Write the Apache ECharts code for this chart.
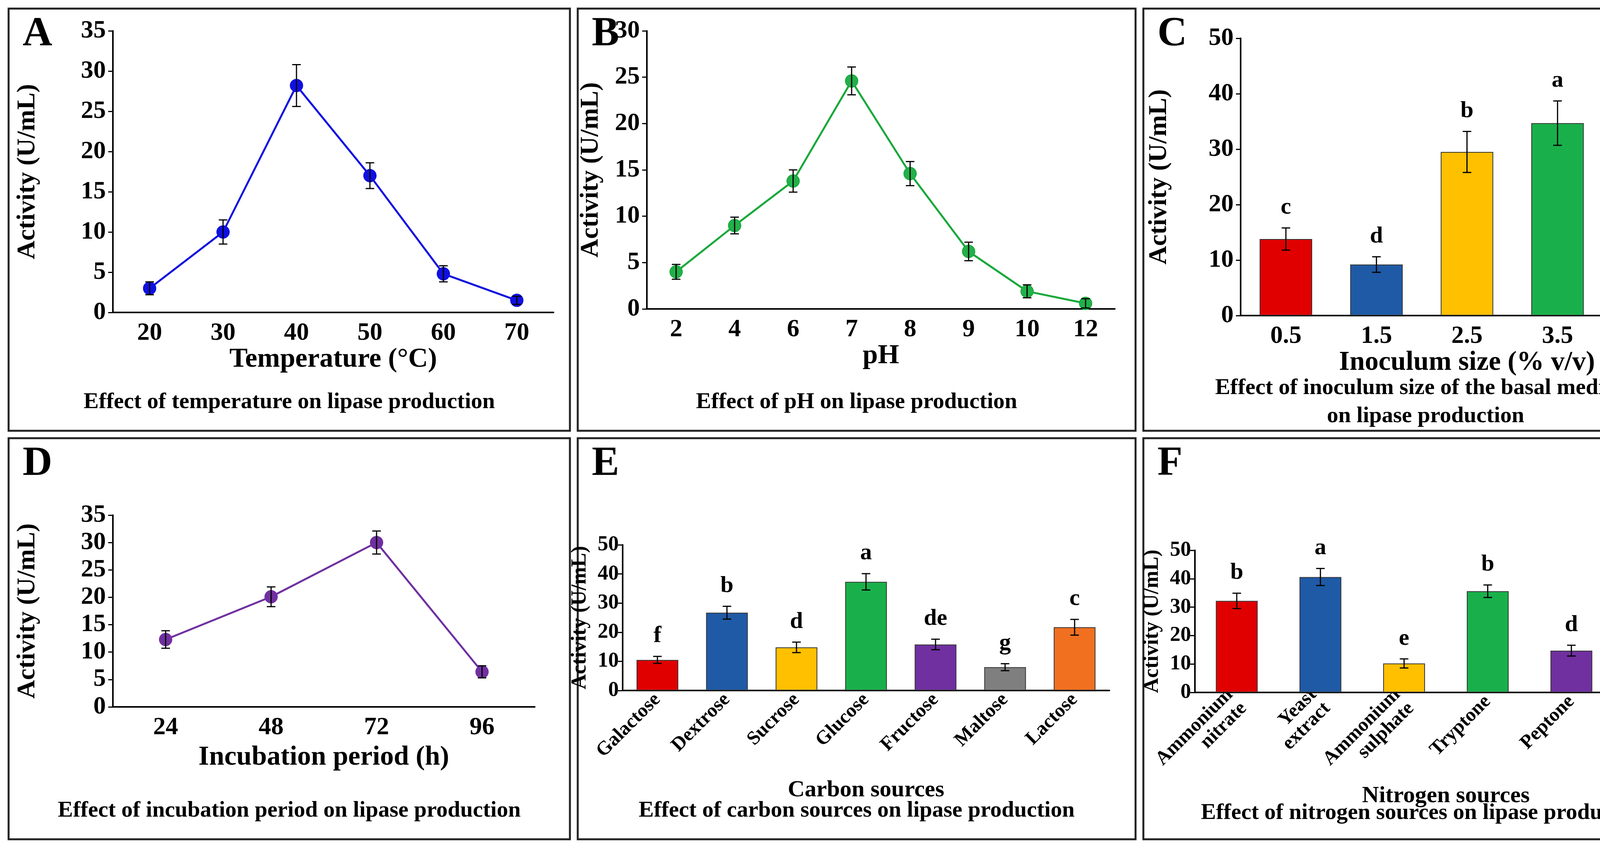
<!DOCTYPE html>
<html>
<head>
<meta charset="utf-8">
<script src="https://cdn.jsdelivr.net/npm/echarts@6/dist/echarts.min.js"></script>
<style>html,body{margin:0;padding:0;background:#fff}#main{width:4400px;height:2179px}</style>
</head>
<body>
<div id="main"></div>
<script>
var F = '"Liberation Serif", "Times New Roman", serif';

// A: temperature
var tempCats = ['20','30','40','50','60','70'];
var tempVals = [3, 10, 28.2, 17, 4.8, 1.5];
var tempErr = [0.8, 1.5, 2.6, 1.6, 1.0, 0.5];
// B: pH
var phCats = ['2','4','6','7','8','9','10','12'];
var phVals = [4, 9, 13.8, 24.6, 14.6, 6.2, 1.9, 0.6];
var phErr = [0.8, 0.9, 1.2, 1.5, 1.3, 1.0, 0.7, 0.5];
// C: inoculum
var inoCats = ['0.5','1.5','2.5','3.5','4.5'];
var inoVals = [13.8, 9.2, 29.5, 34.7, 11.3];
var inoErr = [2.0, 1.4, 3.7, 4.0, 1.8];
var inoLetters = ['c','d','b','a','d'];
// D: incubation period
var incCats = ['24','48','72','96'];
var incVals = [12.3, 20.1, 30, 6.4];
var incErr = [1.6, 1.8, 2.1, 1.1];
// E: carbon sources
var carbCats = ['Galactose','Dextrose','Sucrose','Glucose','Fructose','Maltose','Lactose'];
var carbVals = [10.5, 26.7, 14.8, 37.3, 15.8, 8.0, 21.7];
var carbErr = [1.2, 2.2, 1.8, 2.8, 1.8, 1.2, 2.7];
var carbLetters = ['f','b','d','a','de','g','c'];
// F: nitrogen sources
var nitCats = ['Ammonium\nnitrate','Yeast\nextract','Ammonium\nsulphate','Tryptone','Peptone','Beef\nextract'];
var nitVals = [32.2, 40.6, 10.2, 35.6, 14.7, 6.2];
var nitErr = [2.7, 3.0, 1.6, 2.2, 1.9, 1.1];
var nitLetters = ['b','a','e','b','d','f'];

var RED='#E00000', BLUE='#1F5AA6', YEL='#FFC000', GRN='#19B04B', PUR='#7030A0', GRY='#7F7F7F', ORG='#F07020';

var panels = [
  {box:[22,22,1437,1081], tag:'A', grid:{left:289,top:79,width:1128,height:721}, cats:tempCats, vals:tempVals, err:tempErr,
   type:'line', color:'#1010E0', max:35, step:5, xname:'Temperature (°C)', xgap:80, ygap:185, sub:'Effect of temperature on lipase production', subY:1030},
  {box:[1479,22,1428,1081], tag:'B', grid:{left:1656,top:79,width:1198,height:712}, cats:phCats, vals:phVals, err:phErr,
   type:'line', color:'#18A83A', mcolor:'#22B04A', max:30, step:5, xname:'pH', xgap:75, ygap:110, sub:'Effect of pH on lipase production', subY:1030},
  {box:[2927,22,1445,1081], tag:'C', grid:{left:3176,top:98,width:1159,height:710}, cats:inoCats, vals:inoVals, err:inoErr,
   type:'bar', colors:[RED,BLUE,YEL,GRN,PUR], letters:inoLetters, bw:'58%', max:50, step:10, xname:'Inoculum size (% v/v)', xgap:62, ygap:175,
   sub:'Effect of inoculum size of the basal medium\non lipase production', subY:1030},
  {box:[22,1122,1437,1027], tag:'D', grid:{left:289,top:1319,width:1080,height:491}, cats:incCats, vals:incVals, err:incErr,
   type:'line', color:PUR, max:35, step:5, xname:'Incubation period (h)', xgap:95, ygap:185, sub:'Effect of incubation period on lipase production', subY:2076},
  {box:[1479,1122,1428,1027], tag:'E', grid:{left:1594,top:1395,width:1246,height:373}, cats:carbCats, vals:carbVals, err:carbErr,
   type:'bar', colors:[RED,BLUE,YEL,GRN,PUR,GRY,ORG], letters:carbLetters, bw:'60%', max:50, step:10, rot:45, xname:'Carbon sources', xgap:225, ygap:82,
   sub:'Effect of carbon sources on lipase production', subY:2076},
  {box:[2927,1122,1445,1027], tag:'F', grid:{left:3059,top:1409,width:1285,height:364}, cats:nitCats, vals:nitVals, err:nitErr,
   type:'bar', colors:[RED,BLUE,YEL,GRN,PUR,GRY], letters:nitLetters, bw:'50%', max:50, step:10, rot:45, xname:'Nitrogen sources', xgap:235, ygap:82,
   sub:'Effect of nitrogen sources on lipase production', subY:2082}
];

var grids=[], xAxes=[], yAxes=[], series=[], graphics=[];
panels.forEach(function(p, i){
  grids.push(p.grid);
  var axisLine = {lineStyle:{color:'#000', width:4}};
  xAxes.push({type:'category', gridIndex:i, data:p.cats, boundaryGap:true,
    axisLine:axisLine, axisTick:{alignWithLabel:true, length:12, lineStyle:{width:3,color:'#000'}},
    axisLabel:{color:'#000', fontFamily:F, fontWeight:'bold', fontSize:p.rot?50:64, rotate:p.rot||0, margin:p.rot?16:28, interval:0, lineHeight:50},
    name:p.xname, nameLocation:'middle', nameGap:p.xgap,
    nameTextStyle:{color:'#000', fontFamily:F, fontWeight:'bold', fontSize:p.rot?60:70}});
  yAxes.push({type:'value', gridIndex:i, min:0, max:p.max, interval:p.step,
    axisLine:Object.assign({show:true}, axisLine), axisTick:{show:true, length:12, lineStyle:{width:3,color:'#000'}},
    splitLine:{show:false},
    axisLabel:{color:'#000', fontFamily:F, fontWeight:'bold', fontSize:p.rot?54:64, margin:p.rot?10:18},
    name:'Activity (U/mL)', nameLocation:'middle', nameGap:p.ygap, nameRotate:90,
    nameTextStyle:{color:'#000', fontFamily:F, fontWeight:'bold', fontSize:p.rot?54:66}});
  if (p.type === 'line') {
    series.push({type:'line', xAxisIndex:i, yAxisIndex:i, data:p.vals, symbol:'circle', symbolSize:32,
      lineStyle:{color:p.color, width:5}, itemStyle:{color:p.mcolor||p.color, borderColor:p.color, borderWidth:2}, z:3});
  } else {
    series.push({type:'bar', xAxisIndex:i, yAxisIndex:i, barWidth:p.bw,
      data:p.vals.map(function(v,k){return {value:v, itemStyle:{color:p.colors[k]}};}),
      itemStyle:{borderColor:'#333', borderWidth:2}, z:2});
  }
  var edata = p.vals.map(function(v,k){return [k, v, p.err[k], p.letters ? p.letters[k] : ''];});
  series.push({type:'custom', xAxisIndex:i, yAxisIndex:i, data:edata, z:4,
    renderItem:function(params, api){
      var k=api.value(0), v=api.value(1), e=api.value(2);
      var hi=api.coord([k, v+e]), lo=api.coord([k, v-e]);
      var cap=11, st={stroke:'#000', lineWidth:3};
      var ch=[
        {type:'line', shape:{x1:hi[0],y1:hi[1],x2:lo[0],y2:lo[1]}, style:st},
        {type:'line', shape:{x1:hi[0]-cap,y1:hi[1],x2:hi[0]+cap,y2:hi[1]}, style:st},
        {type:'line', shape:{x1:lo[0]-cap,y1:lo[1],x2:lo[0]+cap,y2:lo[1]}, style:st}
      ];
      var lt = edata[params.dataIndex][3];
      if (lt) ch.push({type:'text', x:hi[0], y:hi[1]-22, style:{text:lt, fill:'#000', font:'bold 60px '+F, align:'center', verticalAlign:'bottom'}});
      return {type:'group', children:ch};
    }});
  graphics.push({type:'rect', shape:{x:p.box[0], y:p.box[1], width:p.box[2], height:p.box[3]},
    style:{fill:'none', stroke:'#222', lineWidth:5}});
  graphics.push({type:'text', x:p.box[0]+36, y:p.box[1]+14, style:{text:p.tag, fill:'#000', font:'bold 105px '+F}});
  graphics.push({type:'text', x:p.box[0]+p.box[2]/2, y:p.subY, style:{text:p.sub, fill:'#000', font:'bold 58px '+F, align:'center', verticalAlign:'middle', lineHeight:72}});
});

var chart = echarts.init(document.getElementById('main'));
chart.setOption({
  animation:false,
  grid:grids, xAxis:xAxes, yAxis:yAxes, series:series, graphic:graphics
});
</script>
</body>
</html>
